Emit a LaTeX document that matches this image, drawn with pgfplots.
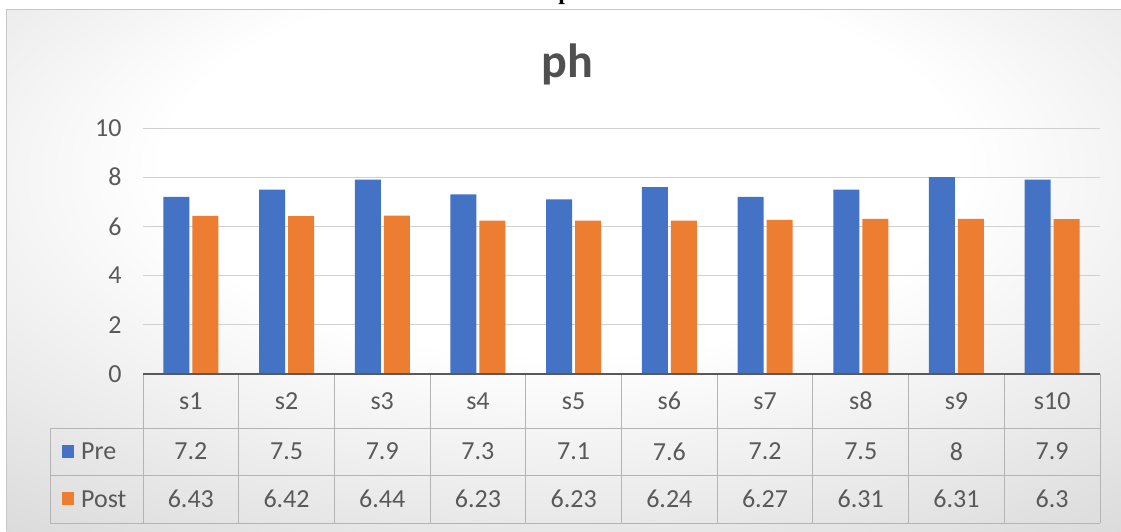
\documentclass[border=0pt]{standalone}
\usepackage{pgfplots}
\pgfplotsset{compat=1.18}
\usepackage{pgfplotstable}
\usepackage{fontspec}
\setmainfont{Carlito}
\newfontfamily\timesfont{Liberation Serif}
\definecolor{cblue}{HTML}{4472C4}
\definecolor{corange}{HTML}{ED7D31}
\definecolor{ctext}{HTML}{595959}
\definecolor{cgrid}{HTML}{D0D0D0}
\definecolor{ctab}{HTML}{B4B4B4}
\pgfdeclareradialshading{bgshade}{\pgfpoint{0bp}{12bp}}{color(0bp)=(white); color(18bp)=(white); color(52bp)=(black!21); color(100bp)=(black!24)}

\pgfplotstableread{
x lab pre post
0 s1 7.2 6.43
1 s2 7.5 6.42
2 s3 7.9 6.44
3 s4 7.3 6.23
4 s5 7.1 6.23
5 s6 7.6 6.24
6 s7 7.2 6.27
7 s8 7.5 6.31
8 s9 8 6.31
9 s10 7.9 6.3
}\datatable

\begin{document}
\begin{tikzpicture}
\useasboundingbox (0pt,0pt) rectangle (1121pt,-531pt);
\node[font=\timesfont\bfseries\fontsize{24}{28}\selectfont, anchor=base] at (560pt,1pt) {Graph 1};
\shade[shading=bgshade] (6pt,-9pt) rectangle (1121pt,-531pt);
\draw[black!22, line width=1pt] (6pt,-531pt) -- (6pt,-9pt) -- (1121pt,-9pt);
\node[font=\bfseries\fontsize{48}{54}\selectfont, text=ctext!90!black] at (567pt,-64pt) {ph};
\begin{axis}[
  at={(143pt,-374pt)}, anchor=south west,
  scale only axis, width=957pt, height=246pt,
  xmin=-0.5, xmax=9.5, ymin=0, ymax=10,
  ytick={0,2,...,10},
  xtick={0,...,9},
  xticklabels from table={\datatable}{lab},
  axis line style={draw=none},
  major tick length=0pt,
  ymajorgrids, grid style={cgrid, line width=1pt},
  tick label style={font=\fontsize{26}{30}\selectfont, text=ctext},
  /pgf/number format/assume math mode=true,
  yticklabel style={anchor=east, xshift=-18pt},
  xticklabel style={anchor=center, yshift=-27pt},
  clip=false,
]
\addplot[ybar, bar width=26pt, bar shift=-14.5pt, fill=cblue, draw=none] table[x=x,y=pre]{\datatable};
\addplot[ybar, bar width=26pt, bar shift=14.5pt, fill=corange, draw=none] table[x=x,y=post]{\datatable};
\addplot[draw=none, mark=none, nodes near coords, point meta=explicit symbolic,
  every node near coord/.append style={anchor=center, font=\fontsize{26}{30}\selectfont, text=ctext}]
  table[x=x, y expr=-3.15, meta=pre]{\datatable};
\addplot[draw=none, mark=none, nodes near coords, point meta=explicit symbolic,
  every node near coord/.append style={anchor=center, font=\fontsize{26}{30}\selectfont, text=ctext}]
  table[x=x, y expr=-5.08, meta=post]{\datatable};
\end{axis}
% data table grid
\foreach \k in {0,...,10}{
  \draw[ctab, line width=1pt] ({(143+95.7*\k)*1pt},-374pt) -- ({(143+95.7*\k)*1pt},-523pt);
}
\draw[ctab, line width=1pt] (50pt,-428pt) -- (1100pt,-428pt);
\draw[ctab, line width=1pt] (50pt,-475pt) -- (1100pt,-475pt);
\draw[ctab, line width=1pt] (50pt,-523pt) -- (1100pt,-523pt);
\draw[ctab, line width=1pt] (50pt,-428pt) -- (50pt,-523pt);
\draw[ctext, line width=1.6pt] (143pt,-374pt) -- (1100pt,-374pt);
% legend keys
\fill[cblue] (62pt,-445pt) rectangle (74pt,-458pt);
\node[anchor=west, inner sep=0pt, font=\fontsize{26}{30}\selectfont, text=ctext] at (81pt,-451.5pt) {Pre};
\fill[corange] (62pt,-492pt) rectangle (74pt,-505pt);
\node[anchor=west, inner sep=0pt, font=\fontsize{26}{30}\selectfont, text=ctext] at (81pt,-499pt) {Post};
\end{tikzpicture}
\end{document}
